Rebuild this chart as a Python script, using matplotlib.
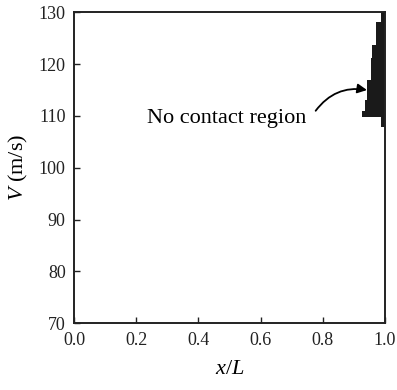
import matplotlib
matplotlib.use('Agg')
import matplotlib.pyplot as plt

# steps of the no-contact region: lower V, upper V, left edge in x/L
v_low = [128.1, 123.7, 121.1, 116.9, 113.1, 111.0, 109.8, 107.8]
v_high = [130.0, 128.1, 123.7, 121.1, 116.9, 113.1, 111.0, 109.8]
x_left = [0.987, 0.972, 0.959, 0.954, 0.943, 0.937, 0.927, 0.987]

x_ticks = [0.0, 0.2, 0.4, 0.6, 0.8, 1.0]
v_ticks = [70, 80, 90, 100, 110, 120, 130]

plt.rcParams['font.family'] = ['Liberation Serif', 'DejaVu Serif']
plt.rcParams['mathtext.fontset'] = 'custom'
plt.rcParams['mathtext.rm'] = 'Liberation Serif'
plt.rcParams['mathtext.it'] = 'Liberation Serif:italic'

fig = plt.figure(figsize=(3.97, 3.9), dpi=100)
ax = fig.add_axes([0.1864, 0.171, 0.7834, 0.7975])

widths = [1.0 - x for x in x_left]
heights = [h - l for l, h in zip(v_low, v_high)]
ax.barh(v_low, widths, height=heights, left=x_left, align='edge',
        color='#1a1a1a', edgecolor='none')

ax.text(0.235, 109.5, 'No contact region', fontsize=16, ha='left', va='center')
ax.annotate('', xy=(0.942, 115.0), xytext=(0.777, 111.0),
            arrowprops=dict(arrowstyle='-|>', color='black', lw=1.3,
                            mutation_scale=14, shrinkA=0, shrinkB=0,
                            connectionstyle='arc3,rad=-0.3'))

ax.set_xlim(0, 1)
ax.set_ylim(70, 130)
ax.set_xticks(x_ticks)
ax.set_yticks(v_ticks)
ax.set_xticklabels(['%.1f' % t for t in x_ticks])
ax.tick_params(direction='in', length=4, width=1.0, labelsize=13,
               colors='#222222', pad=6)
for s in ax.spines.values():
    s.set_linewidth(1.4)
    s.set_color('#222222')

ax.set_xlabel('$x/L$', fontsize=16, labelpad=8)
ax.set_ylabel('$V$ (m/s)', fontsize=16, labelpad=6)

fig.savefig('out.png', dpi=100)
